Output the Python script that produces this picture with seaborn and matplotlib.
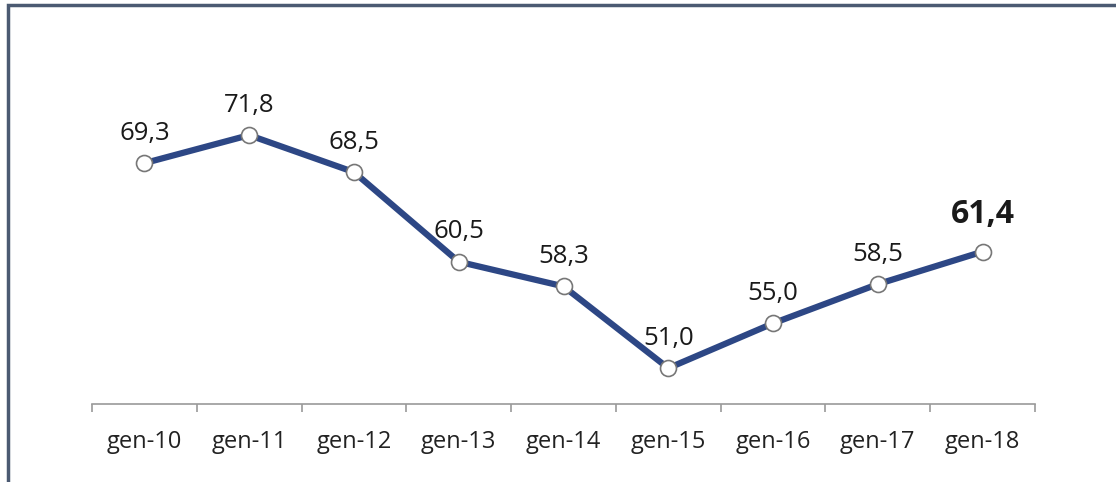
import matplotlib
matplotlib.use("Agg")
import matplotlib.pyplot as plt
import seaborn as sns
import pandas as pd
from matplotlib.patches import Rectangle

# data
periods = ["gen-10", "gen-11", "gen-12", "gen-13", "gen-14",
           "gen-15", "gen-16", "gen-17", "gen-18"]
values = [69.3, 71.8, 68.5, 60.5, 58.3, 51.0, 55.0, 58.5, 61.4]

df = pd.DataFrame({"period": periods, "value": values})

sns.set_theme(style="white")
plt.rcParams["font.family"] = ["Open Sans", "DejaVu Sans"]

W, H = 1116, 482
fig = plt.figure(figsize=(W / 100, H / 100), dpi=100)
fig.patch.set_facecolor("white")

# axes placed in pixel coordinates of the reference
left, right, top, bottom = 92, 1035, 50, 404
ax = fig.add_axes([left / W, 1 - bottom / H, (right - left) / W, (bottom - top) / H])

line_color = "#2d4785"
sns.lineplot(data=df, x="period", y="value", ax=ax, sort=False,
             color=line_color, linewidth=4.5, marker="o", markersize=11.5,
             markerfacecolor="white", markeredgecolor="#777777",
             markeredgewidth=1.2, zorder=3)

ax.set_xlim(-0.5, len(periods) - 0.5)
ax.set_ylim(47.8, 79.4)

# value labels
for i, v in enumerate(values):
    txt = f"{v:.1f}".replace(".", ",")
    last = i == len(values) - 1
    ax.annotate(txt, (i, v), xytext=(0, 27 if last else 21.5),
                textcoords="offset points", ha="center", va="center",
                fontsize=23 if last else 18.5,
                fontweight="bold" if last else "normal",
                color="#1a1a1a")

# axis styling
for s in ["top", "right", "left"]:
    ax.spines[s].set_visible(False)
ax.spines["bottom"].set_color("#9a9a9a")
ax.spines["bottom"].set_linewidth(1.2)
ax.set_yticks([])
ax.set_xlabel("")
ax.set_ylabel("")
ax.set_xticks(range(len(periods)))
ax.set_xticklabels(periods, fontsize=17, color="#222222")
ax.set_xticks([x - 0.5 for x in range(len(periods) + 1)], minor=True)
ax.tick_params(axis="x", which="major", length=0, pad=19)
ax.tick_params(axis="x", which="minor", length=6, width=1.2,
               color="#9a9a9a", direction="out", bottom=True)
ax.patch.set_alpha(0)

# outer frame (partly cut off in the reference)
fig.patches.append(Rectangle((8 / W, -0.1), 1.2, 1.1 - 5 / H,
                             transform=fig.transFigure, fill=False,
                             edgecolor="#4b5a72", linewidth=2.5))

fig.savefig("out.png", dpi=100)
